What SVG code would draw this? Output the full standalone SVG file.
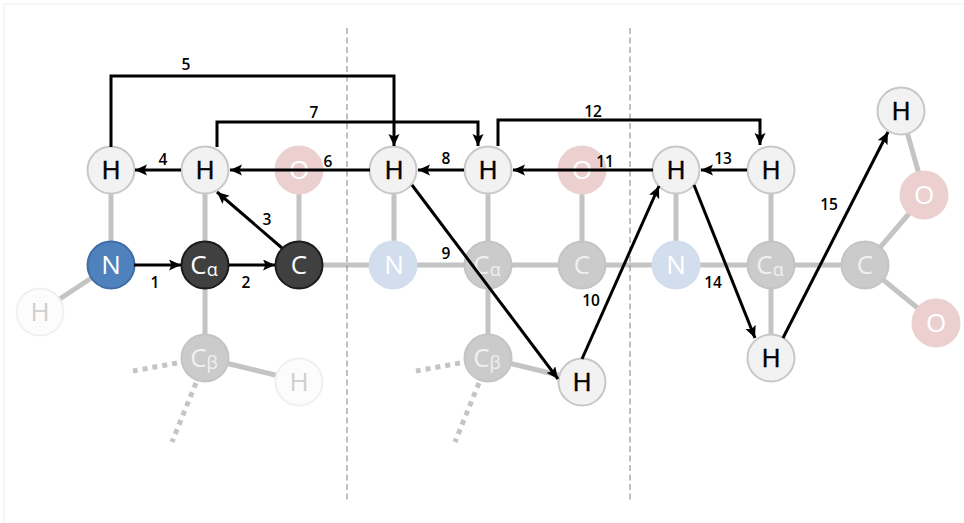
<svg xmlns="http://www.w3.org/2000/svg" width="964" height="523" viewBox="0 0 964 523">
<defs>
<marker id="arrow" markerUnits="userSpaceOnUse" markerWidth="14" markerHeight="12" refX="12" refY="5.5" orient="auto"><path d="M0 0L12 5.5L0 11L2.5 5.5Z" fill="#000"/></marker>
</defs>
<style>
text{font-family:"Open Sans","Liberation Sans",sans-serif;text-anchor:middle}
.b{fill:none;stroke:#c4c4c4;stroke-width:5}
.d{stroke-dasharray:5 5}
.n circle{stroke-width:2}
.h circle{fill:#f2f2f2;stroke:#c8c8c8}
.h text{font-size:26px;fill:#000;stroke:#000;stroke-width:.5}
.hf circle{fill:#fcfcfc;stroke:#f0f0f0}
.hf text{font-size:26px;fill:#cfcfcf}
.o circle{fill:#ecd0d0;stroke:#ecd0d0}
.o text,.nn text,.c text,.k text{fill:#fff;font-size:26px}
.c text{fill:#f0f0f0}
.nn circle{fill:#d2deed;stroke:#d2deed}
.c circle{fill:#cbcbcb;stroke:#c4c4c4}
.k circle{fill:#404040;stroke:#1c1c1c}
.nb circle{fill:#4f81bd;stroke:#3f6ea6}
.nb text{fill:#fff;font-size:26px}
.sub{font-size:18px}
.a{fill:none;stroke:#000;stroke-width:3;marker-end:url(#arrow)}
.l{font-size:15.5px;font-weight:600;fill:#000}
.v{stroke:#808080;stroke-width:1;stroke-dasharray:6 3.5}
</style>
<rect x="4" y="4" width="970" height="530" fill="#fff" stroke="#efefef"/>
<g id="bonds">
<path class="b" d="M111 170V265M205 170V360M299 170V265M300 265H865"/>
<path class="b" d="M111 265L40 312"/>
<path class="b" d="M205 358L300 381"/>
<path class="b" d="M394 170V265M488 170V360M582 170V265M676 170V265M771 170V358M488 358L583 381"/>
<path class="b" d="M865 265L925 195M865 265L936 323M901 111L925 195"/>
<path class="b d" d="M177 363L133 371M196 383L172 442M460 363L416 371M479 383L455 442"/>
</g>
<g id="dividers"><path class="v" d="M347 28V502M630 28V502"/></g>
<g id="n-h1" class="n h"><circle cx="111" cy="170" r="23.5"/><text x="111" y="179">H</text></g>
<g id="n-h2" class="n h"><circle cx="205" cy="170" r="23.5"/><text x="205" y="179">H</text></g>
<g id="n-o1" class="n o"><circle cx="299" cy="170" r="23.5"/><text x="299" y="179">O</text></g>
<g id="n-n1" class="n nb"><circle cx="111" cy="265" r="23.5"/><text x="111" y="274">N</text></g>
<g id="n-ca1" class="n k"><circle cx="205" cy="265" r="23.5"/><text x="204" y="274">C<tspan class="sub" dy="2">α</tspan></text></g>
<g id="n-c1" class="n k"><circle cx="299" cy="265" r="23.5"/><text x="299" y="274">C</text></g>
<g id="n-hf1" class="n hf"><circle cx="40" cy="312" r="23.5"/><text x="40" y="321">H</text></g>
<g id="n-cb1" class="n c"><circle cx="205" cy="358" r="23.5"/><text x="204" y="367">C<tspan class="sub" dy="2">β</tspan></text></g>
<g id="n-hf2" class="n hf"><circle cx="299" cy="382" r="23.5"/><text x="299" y="391">H</text></g>
<g id="n-h3" class="n h"><circle cx="393" cy="170" r="23.5"/><text x="394" y="179">H</text></g>
<g id="n-h4" class="n h"><circle cx="488" cy="170" r="23.5"/><text x="488" y="179">H</text></g>
<g id="n-o2" class="n o"><circle cx="582" cy="170" r="23.5"/><text x="582" y="179">O</text></g>
<g id="n-n2" class="n nn"><circle cx="393" cy="265" r="23.5"/><text x="394" y="274">N</text></g>
<g id="n-ca2" class="n c"><circle cx="488" cy="265" r="23.5"/><text x="487" y="274">C<tspan class="sub" dy="2">α</tspan></text></g>
<g id="n-c2" class="n c"><circle cx="582" cy="265" r="23.5"/><text x="582" y="274">C</text></g>
<g id="n-cb2" class="n c"><circle cx="488" cy="358" r="23.5"/><text x="487" y="367">C<tspan class="sub" dy="2">β</tspan></text></g>
<g id="n-h5" class="n h"><circle cx="582" cy="382" r="23.5"/><text x="582" y="391">H</text></g>
<g id="n-h6" class="n h"><circle cx="676" cy="170" r="23.5"/><text x="676" y="179">H</text></g>
<g id="n-h7" class="n h"><circle cx="771" cy="170" r="23.5"/><text x="771" y="179">H</text></g>
<g id="n-n3" class="n nn"><circle cx="676" cy="265" r="23.5"/><text x="676" y="274">N</text></g>
<g id="n-ca3" class="n c"><circle cx="771" cy="265" r="23.5"/><text x="770" y="274">C<tspan class="sub" dy="2">α</tspan></text></g>
<g id="n-c3" class="n c"><circle cx="865" cy="265" r="23.5"/><text x="865" y="274">C</text></g>
<g id="n-h8" class="n h"><circle cx="771" cy="358" r="23.5"/><text x="771" y="367">H</text></g>
<g id="n-h9" class="n h"><circle cx="901" cy="111" r="23.5"/><text x="901" y="120">H</text></g>
<g id="n-o3" class="n o"><circle cx="924" cy="195" r="23.5"/><text x="924" y="204">O</text></g>
<g id="n-o4" class="n o"><circle cx="936" cy="323" r="23.5"/><text x="936" y="332">O</text></g>
<g id="connectors">
<path class="a" d="M134 265H181"/>
<path class="a" d="M229 265H275"/>
<path class="a" d="M282 248L217 192"/>
<path class="a" d="M181 170H135"/>
<path class="a" d="M111 147V76H394V146"/>
<path class="a" d="M370 170H230"/>
<path class="a" d="M217 147V122H478V146"/>
<path class="a" d="M464 170H418"/>
<path class="a" d="M412 185L558 379"/>
<path class="a" d="M582 359L659 186"/>
<path class="a" d="M653 170H513"/>
<path class="a" d="M498 146V120H760V145"/>
<path class="a" d="M747 170H701"/>
<path class="a" d="M694 185L755 338"/>
<path class="a" d="M783 338L888 132"/>
</g>
<g id="labels">
<text class="l" x="155" y="288">1</text>
<text class="l" x="246" y="288">2</text>
<text class="l" x="267" y="225">3</text>
<text class="l" x="163" y="165">4</text>
<text class="l" x="186" y="70">5</text>
<text class="l" x="328" y="167">6</text>
<text class="l" x="314" y="118">7</text>
<text class="l" x="446" y="164">8</text>
<text class="l" x="446" y="259">9</text>
<text class="l" x="591" y="306">10</text>
<text class="l" x="605" y="167">11</text>
<text class="l" x="593" y="117">12</text>
<text class="l" x="723" y="164">13</text>
<text class="l" x="713" y="288">14</text>
<text class="l" x="829" y="210">15</text>
</g>
</svg>
